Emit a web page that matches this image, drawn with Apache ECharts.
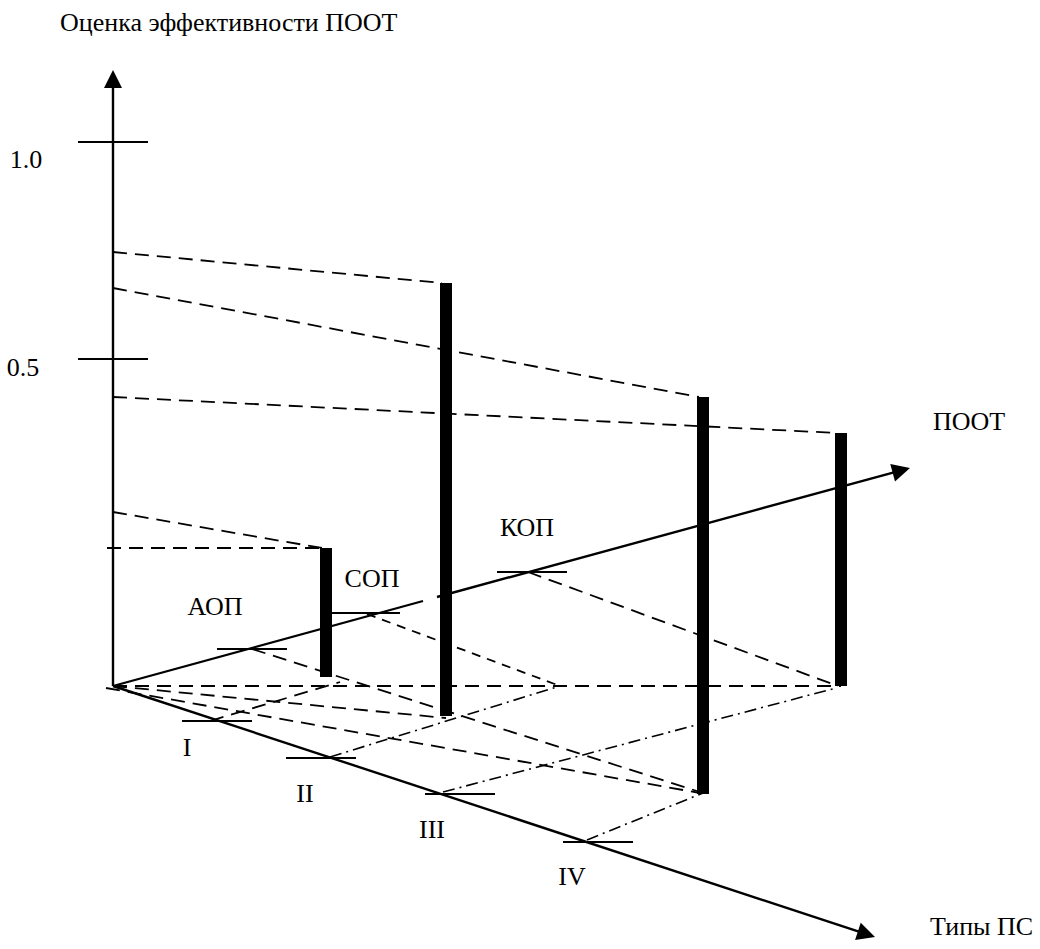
<!DOCTYPE html>
<html>
<head>
<meta charset="utf-8">
<script src="https://cdn.jsdelivr.net/npm/echarts@6/dist/echarts.min.js"></script>
<style>
  html, body { margin: 0; padding: 0; background: #fff; }
  #chart { width: 1040px; height: 949px; }
</style>
</head>
<body>
<div id="chart"></div>
<script>
// схема: оси, отметки и столбики (координаты на плоскости рисунка)
const origin = [113, 686]
const scoreAxisTop = [113, 70]
const pootAxisEnd = [910, 468]
const psAxisEnd = [875, 937]

const scoreLabels = ['1.0', '0.5']
const scoreTickY = [142, 359]

const pootLabels = ['АОП', 'СОП', 'КОП']
const pootTickAt = [[252, 649], [365, 613], [532, 572]]

const psLabels = ['I', 'II', 'III', 'IV']
const psTickAt = [[217, 721], [321, 758], [460, 794], [598, 842]]

// столбики: x, низ, верх
const barX = [326, 446, 703, 841]
const barBottom = [677, 716, 794, 686]
const barTop = [548, 283, 397, 433]

// проекции верхов столбиков на ось оценки: [y на оси, номер столбика]
const topGuides = [[252, 1], [288, 2], [397, 3], [512, 0]]

// линии на плоскости основания
const floorDashed = [
  [[113, 686], [841, 686]],
  [[113, 686], [446, 718]],
  [[106, 688], [700, 793]],
  [[252, 649], [700, 792]],
  [[528, 572], [838, 686]],
  [[210, 721], [340, 682]]
]
const floorShortDashed = [
  [[367, 614], [560, 686]]
]
const floorDotDash = [
  [[330, 757], [560, 686]],
  [[443, 792], [836, 688]],
  [[587, 840], [703, 793]]
]

const black = '#000'
const fontFamily = '"Liberation Serif", "Times New Roman", serif'

let chart = echarts.init(document.getElementById('chart'), null, { renderer: 'svg' })

let seg = (a, b) => ({ coords: [a, b] })

// стрелка рисуется по центру конца линии, поэтому конец отодвигаем назад
let pullBack = (a, b, d) => {
  let dx = b[0] - a[0]
  let dy = b[1] - a[1]
  let len = Math.sqrt(dx * dx + dy * dy)
  return [b[0] - (dx / len) * d, b[1] - (dy / len) * d]
}

// оси со стрелками
let axisData = [
  seg(origin, pullBack(origin, scoreAxisTop, 9)),
  seg([437, 597], pullBack(origin, pootAxisEnd, 9)),
  seg(origin, pullBack(origin, psAxisEnd, 9))
]

// отметки
let tickData = []
scoreTickY.forEach(y => tickData.push(seg([78, y], [148, y])))
pootTickAt.forEach(p => tickData.push(seg([p[0] - 35, p[1]], [p[0] + 35, p[1]])))
psTickAt.forEach(p => tickData.push(seg([p[0] - 35, p[1]], [p[0] + 35, p[1]])))
// часть оси ПООТ до столбика СОП (за столбиком разрыв)
tickData.push(seg(origin, [423, 601]))

let barData = barX.map((x, i) => seg([x, barBottom[i]], [x, barTop[i]]))

let guideData = topGuides.map(g => {
  let i = g[1]
  return seg([origin[0], g[0]], [barX[i] - 4, barTop[i]])
})
guideData.push(seg([107, barTop[0]], [barX[0] - 4, barTop[0]]))
floorDashed.forEach(s => guideData.push(seg(s[0], s[1])))

let textItems = []
let addText = (text, x, y, align) => {
  textItems.push({
    type: 'text',
    x: x,
    y: y,
    style: {
      text: text,
      fill: black,
      font: '26px ' + fontFamily,
      textAlign: align || 'center',
      textVerticalAlign: 'middle'
    }
  })
}
addText('Оценка эффективности ПООТ', 60, 22, 'left')
addText(scoreLabels[0], 26, 159)
addText(scoreLabels[1], 23, 367)
let pootLabelAt = [[215, 606], [372, 578], [527, 527]]
pootLabels.forEach((t, i) => addText(t, pootLabelAt[i][0], pootLabelAt[i][1]))
let psLabelAt = [[187, 747], [305, 793], [432, 829], [572, 876]]
psLabels.forEach((t, i) => addText(t, psLabelAt[i][0], psLabelAt[i][1]))
addText('ПООТ', 969, 421)
addText('Типы ПС', 930, 926, 'left')

let linesSeries = (name, data, lineStyle, symbol, symbolSize) => ({
  name,
  type: 'lines',
  coordinateSystem: 'cartesian2d',
  silent: true,
  symbol: symbol || 'none',
  symbolSize: symbolSize || 0,
  lineStyle: Object.assign({ color: black, opacity: 1, curveness: 0 }, lineStyle),
  data
})

chart.setOption({
  animation: false,
  backgroundColor: '#fff',
  grid: { left: 0, right: 0, top: 0, bottom: 0 },
  xAxis: { type: 'value', min: 0, max: 1040, show: false },
  yAxis: { type: 'value', min: 0, max: 949, inverse: true, show: false },
  series: [
    linesSeries('guides', guideData, { width: 1.8, type: [14, 8] }),
    linesSeries('short', floorShortDashed.map(s => seg(s[0], s[1])), { width: 1.8, type: [9, 7] }),
    linesSeries('dotdash', floorDotDash.map(s => seg(s[0], s[1])), { width: 1.6, type: [12, 5, 2, 5] }),
    linesSeries('ticks', tickData, { width: 2.2 }),
    linesSeries('axes', axisData, { width: 2.4 }, ['none', 'triangle'], [13, 18]),
    linesSeries('bars', barData, { width: 12, cap: 'butt' })
  ],
  graphic: textItems
})
</script>
</body>
</html>
